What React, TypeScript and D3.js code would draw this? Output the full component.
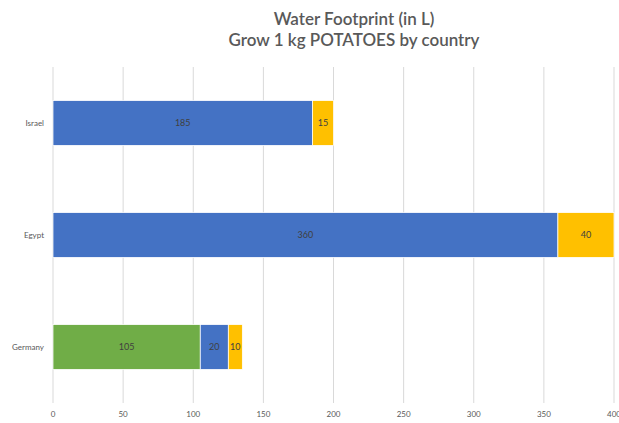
import React from "react";
import * as d3 from "d3";

const categories = ["Israel", "Egypt", "Germany"];
const seriesNames = ["Green", "Blue", "Grey"];
const greenValues = [0, 0, 105];
const blueValues = [185, 360, 20];
const yellowValues = [15, 40, 10];
const xTicks = [0, 50, 100, 150, 200, 250, 300, 350, 400];
const titleLines = ["Water Footprint (in L)", "Grow 1 kg POTATOES by country"];

const colors = ["#70AD47", "#4472C4", "#FFC000"];

export default function App() {
  const W = 619;
  const H = 423;
  const left = 53;
  const right = 614;
  const top = 67;
  const bottom = 403;

  const x = d3.scaleLinear().domain([0, 400]).range([left, right]);
  const y = d3
    .scaleBand<string>()
    .domain(categories)
    .range([top, bottom])
    .paddingInner(0.6)
    .paddingOuter(0.3);

  const rows = categories.map((c, i) => ({
    cat: c,
    s0: greenValues[i],
    s1: blueValues[i],
    s2: yellowValues[i],
  }));
  const stack = d3.stack<any>().keys(["s0", "s1", "s2"]);
  const layers = stack(rows);

  const font = "Lato, 'Open Sans', sans-serif";

  return (
    <div style={{ position: "absolute", left: 0, top: 0 }}>
      <svg width={W} height={H} style={{ display: "block", background: "#fff" }}>
        <rect x={0} y={0} width={W} height={H} fill="#fff" />
        {titleLines.map((t, i) => (
          <text
            key={i}
            x={354}
            y={25 + i * 21}
            textAnchor="middle"
            fontFamily={font}
            fontSize={17}
            fontWeight={600}
            fill="#595959"
          >
            {t}
          </text>
        ))}
        {xTicks.map((t) => (
          <g key={t}>
            <line
              x1={x(t)}
              x2={x(t)}
              y1={top}
              y2={bottom}
              stroke="#D9D9D9"
              strokeWidth={1}
            />
            <text
              x={x(t)}
              y={417}
              textAnchor="middle"
              fontFamily={font}
              fontSize={8}
              fill="#595959"
            >
              {t}
            </text>
          </g>
        ))}
        {layers.map((layer, li) =>
          layer.map((d: any, di: number) => {
            const v = d[1] - d[0];
            if (v <= 0) return null;
            const cat = rows[di].cat;
            const bx = x(d[0]);
            const bw = x(d[1]) - x(d[0]);
            const by = y(cat)!;
            const bh = y.bandwidth();
            return (
              <g key={`${li}-${di}`}>
                <rect
                  x={bx}
                  y={by}
                  width={bw}
                  height={bh}
                  fill={colors[li]}
                  stroke="#fff"
                  strokeWidth={0.75}
                />
                <text
                  x={bx + bw / 2}
                  y={by + bh / 2 + 3}
                  textAnchor="middle"
                  fontFamily={font}
                  fontSize={9}
                  fill="#404040"
                >
                  {v}
                </text>
              </g>
            );
          })
        )}
        {categories.map((c) => (
          <text
            key={c}
            x={44}
            y={y(c)! + y.bandwidth() / 2 + 3}
            textAnchor="end"
            fontFamily={font}
            fontSize={8}
            fill="#595959"
          >
            {c}
          </text>
        ))}
      </svg>
    </div>
  );
}
